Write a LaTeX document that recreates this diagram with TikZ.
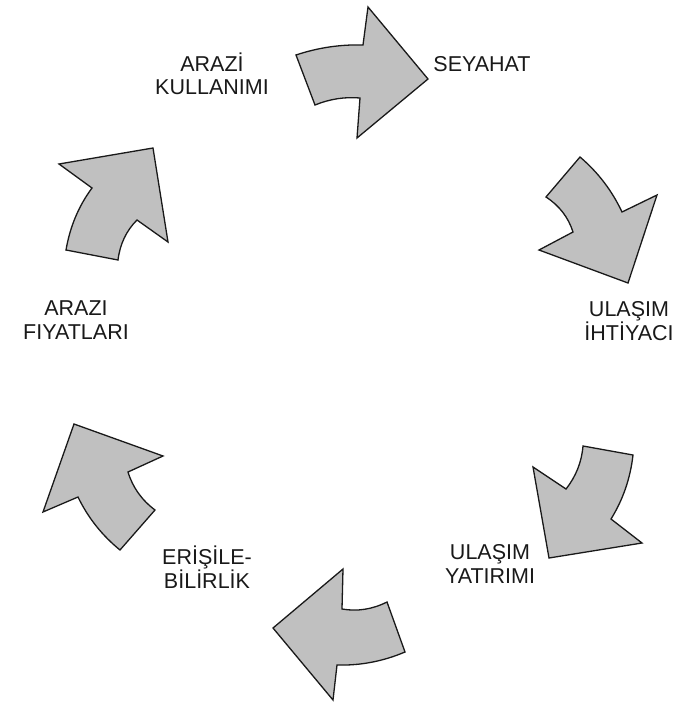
\documentclass[tikz,border=0pt]{standalone}
\usepackage{fontspec}
\setmainfont{Liberation Sans}
\usetikzlibrary{calc}
\begin{document}
\begin{tikzpicture}[x=1pt,y=-1pt,
  cyclearrow/.style={draw=black!90,fill=arrowgray,line width=1.3pt,line join=miter},
  lbl/.style={align=center,font=\fontsize{21.5}{23.5}\selectfont,text=black!90,inner sep=0pt}]
\definecolor{arrowgray}{RGB}{192,192,192}
\useasboundingbox (0,0) rectangle (680,704);
% arrow 1 (top, to the right)
\draw[cyclearrow] (296,55) .. controls ($(296,55)!0.667!(329,44)$) and ($(363,45)!0.667!(329,44)$) .. (363,45) -- (368,7) -- (428,79) -- (357,138) -- (360,98) .. controls ($(360,98)!0.667!(337,96)$) and ($(315,105)!0.667!(337,96)$) .. (315,105) -- cycle;
% arrow 2 (upper right)
\draw[cyclearrow] (580,157) .. controls ($(580,157)!0.667!(607,180)$) and ($(622,212)!0.667!(607,180)$) .. (622,212) -- (657,195) -- (628,283) -- (539,250) -- (573,232) .. controls ($(573,232)!0.667!(566,210)$) and ($(546,197)!0.667!(566,210)$) .. (546,197) -- cycle;
% arrow 3 (lower right)
\draw[cyclearrow] (633,455) .. controls ($(633,455)!0.667!(629,490)$) and ($(611,519)!0.667!(629,490)$) .. (611,519) -- (642,543) -- (549,558) -- (533,467) -- (566,489) .. controls ($(566,489)!0.667!(581,470)$) and ($(583,446)!0.667!(581,470)$) .. (583,446) -- cycle;
% arrow 4 (bottom)
\draw[cyclearrow] (405,652) .. controls ($(405,652)!0.667!(372,666)$) and ($(337,665)!0.667!(372,666)$) .. (337,665) -- (333,700) -- (273,628) -- (343,569) -- (342,609) .. controls ($(342,609)!0.667!(365,613)$) and ($(387,602)!0.667!(365,613)$) .. (387,602) -- cycle;
% arrow 5 (lower left)
\draw[cyclearrow] (120,550) .. controls ($(120,550)!0.667!(93,528)$) and ($(78,497)!0.667!(93,528)$) .. (78,497) -- (43,512) -- (74,424) -- (163,456) -- (128,472) .. controls ($(128,472)!0.667!(135,495)$) and ($(155,510)!0.667!(135,495)$) .. (155,510) -- cycle;
% arrow 6 (upper left)
\draw[cyclearrow] (66,250) .. controls ($(66,250)!0.667!(72,215)$) and ($(92,188)!0.667!(72,215)$) .. (92,188) -- (59,164) -- (153,148) -- (168,242) -- (137,220) .. controls ($(137,220)!0.667!(121,236)$) and ($(118,260)!0.667!(121,236)$) .. (118,260) -- cycle;
% labels
\node[lbl] (arazikul) at (212,74) {ARAZİ\\KULLANIMI};
\node[lbl] (seyahat) at (482,64) {SEYAHAT};
\node[lbl] (ihtiyac) at (629,321) {ULAŞIM\\İHTİYACI};
\node[lbl] (yatirim) at (490,564) {ULAŞIM\\YATIRIMI};
\node[lbl] (erisim) at (207,567) {ERİŞİLE-\\BİLİRLİK};
\node[lbl] (arazifiy) at (76,320) {ARAZI\\FIYATLARI};
\end{tikzpicture}
\end{document}
